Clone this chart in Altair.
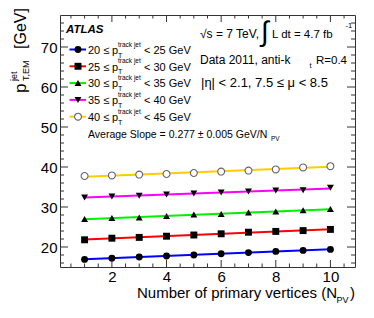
import altair as alt
import pandas as pd

# ---------------- data ----------------
npv = [1, 2, 3, 4, 5, 6, 7, 8, 9, 10]
pt_lo = [20, 25, 30, 35, 40]
pt_hi = [25, 30, 35, 40, 45]
s20 = [16.9, 17.2, 17.5, 17.75, 18.0, 18.3, 18.6, 18.9, 19.15, 19.4]
s25 = [21.8, 22.2, 22.4, 22.7, 23.0, 23.3, 23.7, 23.9, 24.1, 24.4]
s30 = [27.0, 27.25, 27.4, 27.75, 28.1, 28.25, 28.6, 28.9, 29.2, 29.5]
s35 = [32.4, 32.6, 32.8, 33.1, 33.4, 33.6, 33.9, 34.1, 34.2, 34.8]
s40 = [37.75, 37.9, 38.1, 38.25, 38.5, 38.85, 39.1, 39.4, 39.9, 40.2]
series_values = [s20, s25, s30, s35, s40]
series_names = [f"{a}-{b}" for a, b in zip(pt_lo, pt_hi)]

x_tick_labels = [2, 4, 6, 8, 10]
x_minor = [v / 2 for v in range(1, 22) if (v / 2) not in x_tick_labels]
y_tick_labels = [20, 30, 40, 50, 60, 70]
y_minor = [v for v in range(16, 78, 2) if v not in y_tick_labels]

line_colors = ["#0000ff", "#ff0000", "#00f000", "#ff00ff", "#ffcc00"]
shapes = ["circle", "square", "triangle-up", "triangle-down", "circle"]

rows = []
for name, vals in zip(series_names, series_values):
    for n, v in zip(npv, vals):
        rows.append({"npv": n, "value": v, "series": name})
df = pd.DataFrame(rows)

# ---------------- layout ----------------
W, H = 295, 252
FONT = "Liberation Sans"
FRAME = "#333333"
MSIZE = 48

xs = alt.Scale(domain=[0.1, 10.9], nice=False, zero=False)
ys = alt.Scale(domain=[15, 78], nice=False, zero=False)
xaxis = alt.Axis(values=x_tick_labels, ticks=False, domain=False, grid=False, title=None,
                 labelFontSize=15, labelFont=FONT, labelColor="black", labelPadding=2)
yaxis = alt.Axis(values=y_tick_labels, ticks=False, domain=False, grid=False, title=None,
                 labelFontSize=15, labelFont=FONT, labelColor="black", labelPadding=3)


def X(f):
    return alt.X(f, type="quantitative", scale=xs, axis=xaxis)


def Y(f):
    return alt.Y(f, type="quantitative", scale=ys, axis=yaxis)


base = alt.Chart(df)
lines = base.transform_regression("npv", "value", groupby=["series"], extent=[1, 10]).mark_line(
    strokeWidth=2).encode(
    x=X("npv"), y=Y("value"),
    color=alt.Color("series:N", scale=alt.Scale(domain=series_names, range=line_colors), legend=None))

filled_pts = base.transform_filter(alt.datum.series != series_names[4]).mark_point(
    filled=True, size=MSIZE, color="black", opacity=1).encode(
    x=X("npv"), y=Y("value"),
    shape=alt.Shape("series:N", scale=alt.Scale(domain=series_names[:4], range=shapes[:4]), legend=None))

open_pts = base.transform_filter(alt.datum.series == series_names[4]).mark_point(
    shape="circle", filled=True, fill="white", stroke="#666666", strokeWidth=1.1, size=MSIZE, opacity=1).encode(
    x=X("npv"), y=Y("value"))

layers = [lines, filled_pts, open_pts]


# inner ticks (ROOT style)
def xticks(vals, ln):
    d = alt.Chart(pd.DataFrame({"t": vals}))
    return [d.mark_rule(color=FRAME, strokeWidth=1).encode(x=X("t"), y=alt.value(H), y2=alt.value(H - ln)),
            d.mark_rule(color=FRAME, strokeWidth=1).encode(x=X("t"), y=alt.value(0), y2=alt.value(ln))]


def yticks(vals, ln):
    d = alt.Chart(pd.DataFrame({"t": vals}))
    return [d.mark_rule(color=FRAME, strokeWidth=1).encode(y=Y("t"), x=alt.value(0), x2=alt.value(ln)),
            d.mark_rule(color=FRAME, strokeWidth=1).encode(y=Y("t"), x=alt.value(W), x2=alt.value(W - ln))]


layers += xticks(x_tick_labels, 7) + xticks(x_minor, 3.5) + yticks(y_tick_labels, 8) + yticks(y_minor, 4)


def txt(x, y, s, size, angle=0, **kw):
    props = dict(align="left", baseline="alphabetic", fontSize=size, font=FONT, color="black")
    props.update(kw)
    if angle:
        props["angle"] = angle
    return alt.Chart(pd.DataFrame({"s": [s]})).mark_text(**props).encode(
        x=alt.value(x), y=alt.value(y), text="s:N")


# legend
row_y0, row_dy = 34.5, 16.8
for i in range(5):
    ry = row_y0 + i * row_dy
    seg = alt.Chart(pd.DataFrame({"a": [0]})).mark_rule(color=line_colors[i], strokeWidth=2).encode(
        x=alt.value(9.5), x2=alt.value(26), y=alt.value(ry))
    if i < 4:
        mk = alt.Chart(pd.DataFrame({"a": [0]})).mark_point(
            shape=shapes[i], filled=True, color="black", size=MSIZE, opacity=1).encode(
            x=alt.value(18), y=alt.value(ry))
    else:
        mk = alt.Chart(pd.DataFrame({"a": [0]})).mark_point(
            shape="circle", filled=True, fill="white", stroke="#666666", strokeWidth=1.1, size=MSIZE,
            opacity=1).encode(x=alt.value(18), y=alt.value(ry))
    layers += [seg, mk,
               txt(28, ry + 4.3, f"{pt_lo[i]} \u2264", 11),
               txt(52, ry + 4.3, "p", 11),
               txt(58, ry + 8, "T", 7),
               txt(58, ry - 3, "track jet", 6.5),
               txt(84, ry + 4.3, f"< {pt_hi[i]} GeV", 11)]

layers += [
    txt(28, 122.5, "Average Slope =  0.277 \u00b1 0.005 GeV/N", 10.5),
    txt(211, 125.5, "PV", 6.5),
    txt(6, 18, "ATLAS", 11.5, fontWeight="bold", fontStyle="italic"),
    txt(140, 23, "\u221as = 7 TeV,", 12),
    txt(201, 26, "\u222b", 28),
    txt(212, 23, "L dt = 4.7 fb", 11.5),
    txt(285.5, 13, "-1", 7.5),
    txt(140, 49, "Data 2011, anti-k", 12),
    txt(249.5, 53, "t", 7.5),
    txt(256, 49, "R=0.4", 11.5),
    txt(141, 72, "|\u03b7| < 2.1, 7.5 \u2264 \u03bc < 8.5", 13),
    # x title
    txt(77, 283, "Number of primary vertices (N", 15),
    txt(276.5, 288, "PV", 9),
    txt(290, 283, ")", 15),
    # y title (rotated)
    txt(-34, 78, "p", 17, angle=270),
    txt(-43, 66, "jet", 9, angle=270),
    txt(-31, 66, "T,EM", 9, angle=270),
    txt(-34, 34, "[GeV]", 16, angle=270),
]

chart = alt.layer(*layers).properties(
    width=W, height=H,
    autosize=alt.AutoSizeParams(type="none"),
    padding={"left": 52, "top": 7, "right": 10, "bottom": 44},
).configure_view(stroke=FRAME, strokeWidth=1)

chart.save("out.html", embed_options={"renderer": "svg", "actions": False})
